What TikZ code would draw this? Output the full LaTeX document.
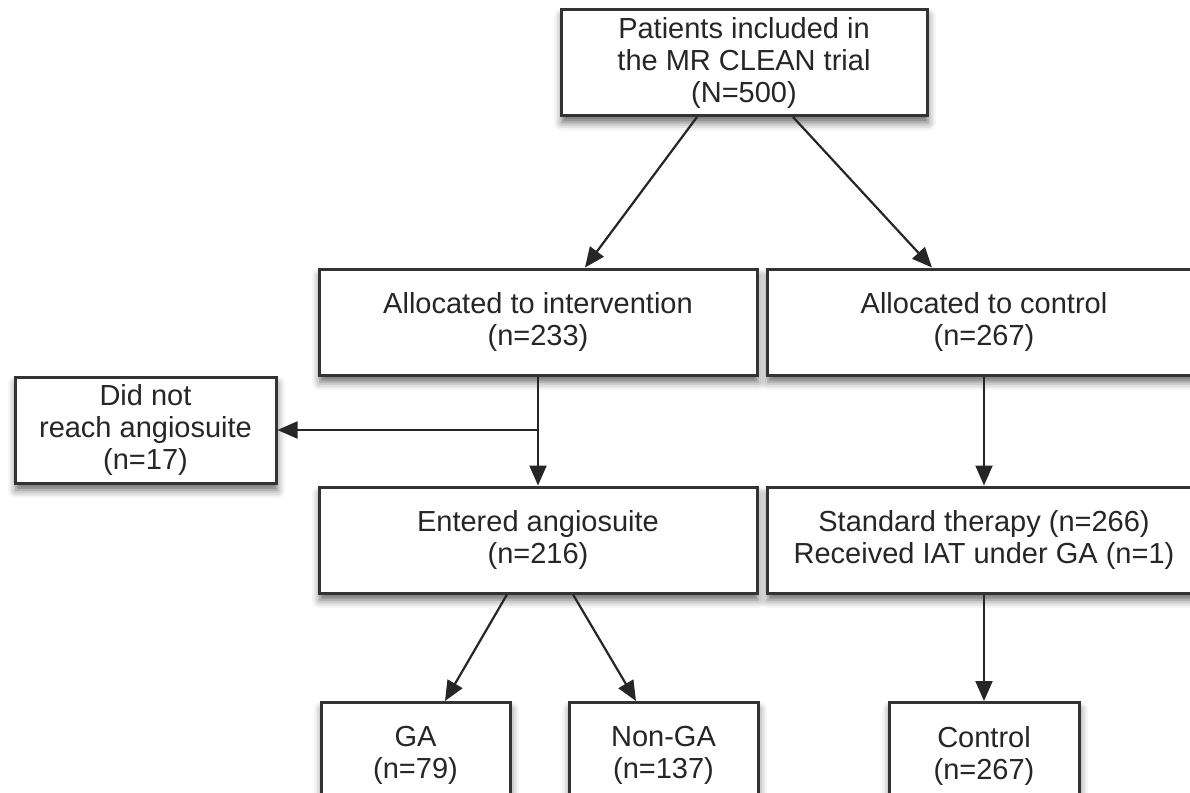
\documentclass[tikz,border=0pt]{standalone}
\usepackage{fontspec}
\setmainfont{Liberation Sans}
\usetikzlibrary{arrows.meta, shadows.blur}

\begin{document}
\begin{tikzpicture}[
  x = 0.5pt, y = -0.5pt,
  every node/.style = {align=center, text=black!85, font=\fontsize{14.5}{16}\selectfont},
  box/.style = {draw=black!80, line width=1.5pt, fill=white, inner sep=0pt, minimum height=53pt,
    blur shadow={shadow xshift=0.5pt, shadow yshift=-3.5pt, shadow blur radius=4pt, shadow opacity=60}},
  flow/.style = {draw=black!85, line width=1.1pt, -{Triangle[length=10pt, width=8.5pt]}}
]
\useasboundingbox (0,0) rectangle (1190,793);

% trial and allocation
\node[box, minimum width=183pt] (trial) at (744,62.5) {Patients included in\\the MR CLEAN trial\\(N=500)};
\node[box, minimum width=219pt] (interv) at (538,322) {Allocated to intervention\\(n=233)};
\node[box, minimum width=217pt] (control) at (984,322) {Allocated to control\\(n=267)};

% second row
\node[box, minimum width=130.5pt] (notreach) at (145.5,430) {Did not\\reach angiosuite\\(n=17)};
\node[box, minimum width=219pt] (entered) at (538,540) {Entered angiosuite\\(n=216)};
\node[box, minimum width=217pt] (standard) at (984,540) {Standard therapy (n=266)\\Received IAT under GA (n=1)};

% final groups
\node[box, minimum width=94.5pt] (ga) at (415.5,755.5) {GA\\(n=79)};
\node[box, minimum width=94.5pt] (nonga) at (663.5,755.5) {Non-GA\\(n=137)};
\node[box, minimum width=95pt] (ctrlfinal) at (984,755.5) {Control\\(n=267)};

\draw[flow] ([xshift=-23.5pt]trial.south) -- ([xshift=23.5pt]interv.north);
\draw[flow] ([xshift=24.5pt]trial.south) -- ([xshift=-26pt]control.north);

\draw[flow] (interv.south) -- (entered.north);
\coordinate (branch) at (538,430);
\draw[flow] (branch) -- (notreach.east);

\draw[flow] (control.south) -- (standard.north);
\draw[flow] (standard.south) -- (ctrlfinal.north);

\draw[flow] ([xshift=-15.5pt]entered.south) -- ([xshift=14.75pt]ga.north);
\draw[flow] ([xshift=17.5pt]entered.south) -- ([xshift=-13.75pt]nonga.north);

\end{tikzpicture}
\end{document}
